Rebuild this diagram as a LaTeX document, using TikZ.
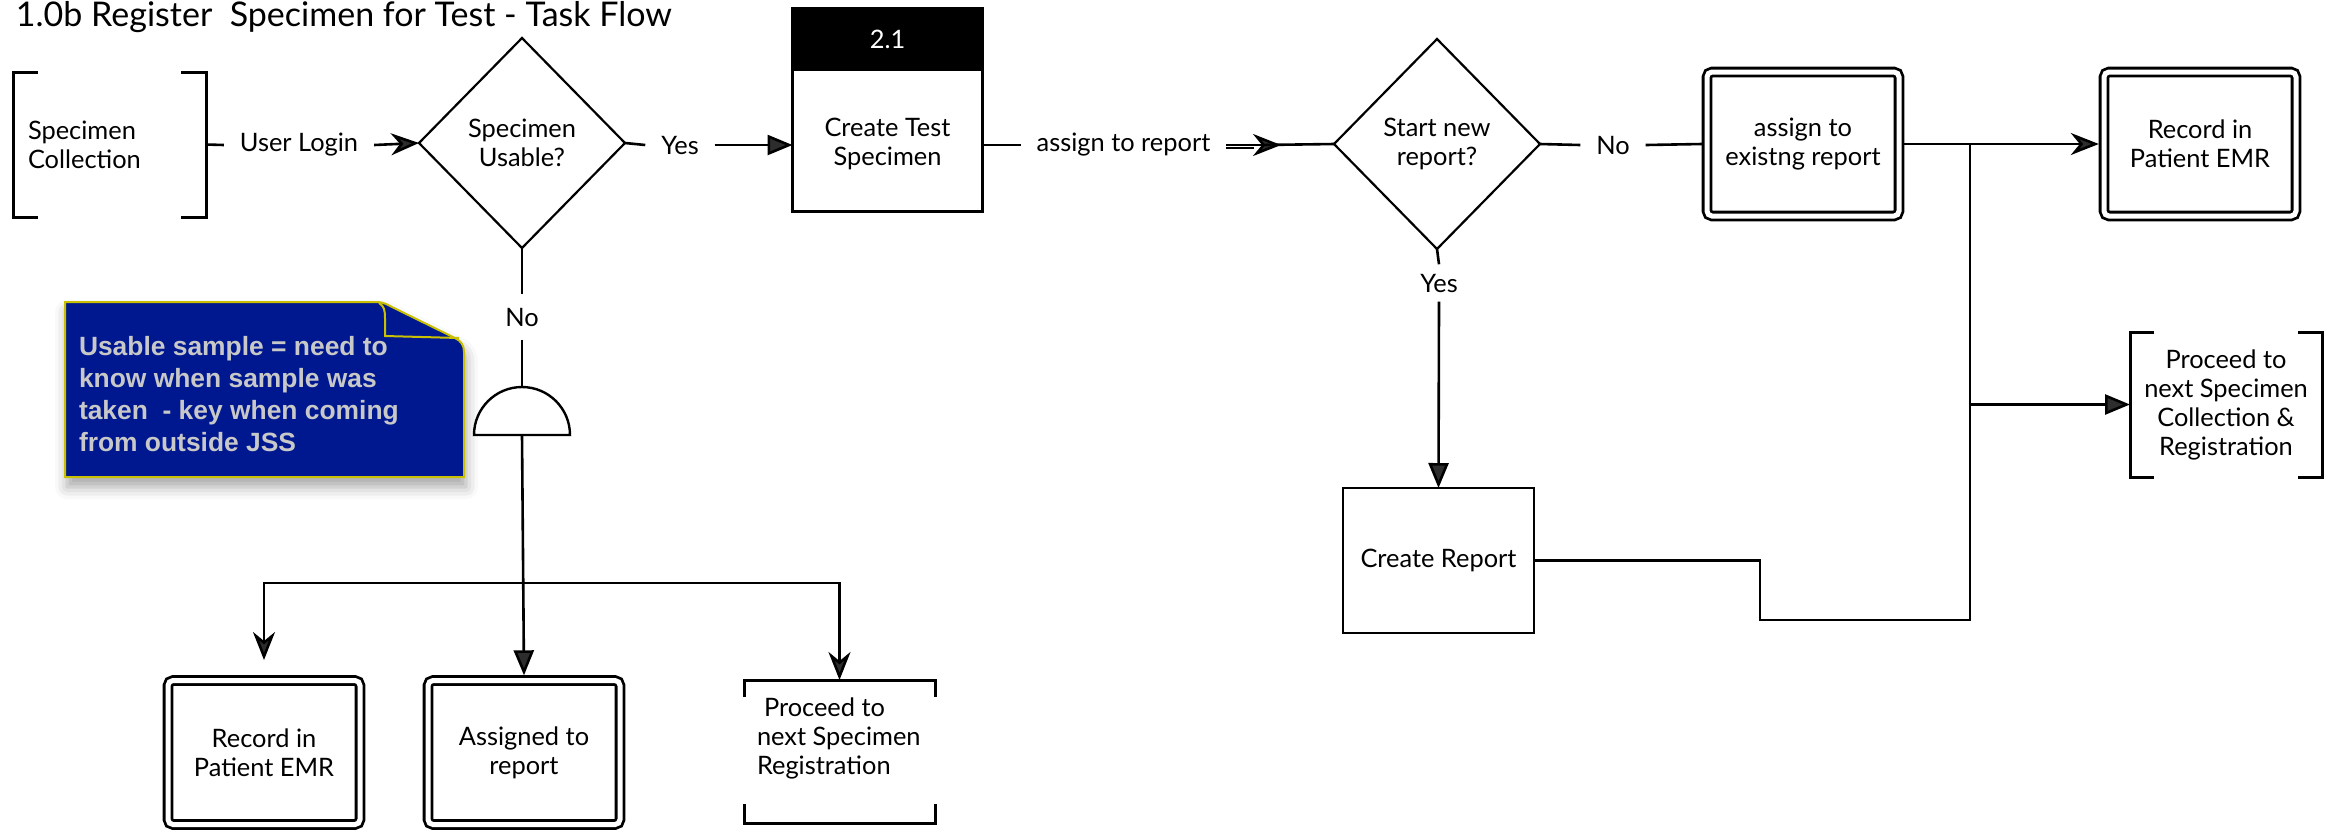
\documentclass[tikz,border=0pt]{standalone}
\usepackage{fontspec}
\setmainfont{Lato}
\newfontfamily\notefont{Liberation Sans}
\usetikzlibrary{shapes.geometric,arrows.meta,calc,shadows.blur}
\definecolor{noteblue}{RGB}{0,24,143}
\definecolor{noteedge}{RGB}{200,192,0}
\definecolor{notetext}{RGB}{200,200,200}
\tikzset{
 conn/.style={line width=1.3pt},
 boxl/.style={draw, line width=1.4pt, align=center},
 dbl/.style={draw, line width=1.4pt, double, double distance=2.5pt, rounded corners=2.5pt, outer sep=2.6pt, align=center},
 dec/.style={diamond, draw, line width=1.1pt, minimum width=103pt, minimum height=105pt, align=center},
 brk/.style={line width=1.5pt},
 lbl/.style={inner xsep=8pt},
 stl/.tip={Stealth[length=14pt,width=11pt,inset=4.5pt]},
 tri/.tip={Triangle[length=12.5pt,width=10pt]},
}
\begin{document}
\begin{tikzpicture}[x=0.5pt,y=-0.5pt,
  every node/.style={font=\fontsize{12.7}{14.5}\selectfont, inner sep=0pt, outer sep=0pt}]
\useasboundingbox (0,0) rectangle (2335,832);

% title
\node[anchor=base west, font=\fontsize{17}{20}\selectfont] (title) at (16,26) {1.0b Register\ \ Specimen for Test - Task Flow};

% note
\path[fill=noteblue, draw=noteedge, line width=1pt, blur shadow={shadow xshift=1pt, shadow yshift=-5pt, shadow blur radius=6pt, shadow opacity=35}]
  (65,302) -- (376,302) .. controls (384,302) and (388,305) .. (392,307) -- (455,338)
  .. controls (461,341) and (464,345) .. (464,352) -- (464,477) -- (65,477) -- cycle;
\draw[noteedge, line width=1pt] (379,303) .. controls (384,306) and (385,310) .. (385,318) -- (385,336) -- (459,338);
\node[anchor=west, align=left, text=notetext, font=\notefont\bfseries\fontsize{13.2}{16}\selectfont] (note) at (79,394.5)
  {Usable sample = need to\\know when sample was\\taken\ \ - key when coming\\from outside JSS};

% Specimen Collection
\node[minimum width=96.5pt, minimum height=72.5pt, text width=81.5pt, align=left, inner xsep=7.5pt] (sc) at (109.5,144.5) {Specimen\\Collection};
\draw[brk] ($(sc.north west)+(25,0)$) -- (sc.north west) -- (sc.south west) -- ($(sc.south west)+(25,0)$);
\draw[brk] ($(sc.north east)+(-25,0)$) -- (sc.north east) -- (sc.south east) -- ($(sc.south east)+(-25,0)$);

\node[lbl] (login) at (299,145) {User Login};
\node[dec] (d1) at (522,143) {Specimen\\Usable?};
\draw[conn] (sc.east) -- (login.west);
\draw[conn,-stl] (login.east) -- (d1.west);

\node[lbl] (yes1) at (680,145) {Yes};
% box 2.1
\node[boxl, minimum width=95pt, minimum height=101.5pt] (b21) at (887.5,110) {};
\node[fill=black, text=white, minimum width=95pt, minimum height=31.25pt, anchor=north] (h21) at (b21.north) {2.1};
\node[align=center] (b21t) at (887.5,144) {Create Test\\Specimen};
\draw[conn] (d1.east) -- (yes1.west);
\draw[conn,-tri] (yes1.east) -- (yes1.east -| b21.west);

\node[lbl] (asr) at (1123.5,145) {assign to report};
\node[dec] (d2) at (1437,144) {Start new\\report?};
\coordinate (asrtip) at (1281,145);
\coordinate (asrj) at (1262,145);
\draw[conn] (asr.west -| b21.east) -- (asr.west);
\draw[conn,-stl] (asr.east) -- (asrtip);
\draw[conn] ($(asr.east)+(0,3)$) -- ($(asrj)+(-8,3)$);
\draw[conn] (asrj) -- (d2.west);

\node[lbl] (no2) at (1613,145) {No};
\node[dbl, minimum width=96pt, minimum height=72pt] (ab) at (1803,144) {assign to\\existng report};
\node[dbl, minimum width=96pt, minimum height=72pt] (rec1) at (2200,144) {Record in\\Patient EMR};
\draw[conn] (d2.east) -- (no2.west);
\draw[conn] (no2.east) -- (ab.west);
\draw[conn,-stl] (ab.east) -- (rec1.west);

% Yes branch
\node[inner ysep=4.75pt] (yes2) at (1439,283) {Yes};
\node[boxl, minimum width=95.5pt, minimum height=72.5pt] (cr) at (1438.5,560.5) {Create Report};
\draw[conn] (d2.south) -- (yes2.north);
\draw[conn,-tri] (yes2.south) -- (cr.north);

\node[minimum width=96pt, minimum height=72.5pt, align=center] (pc2) at (2226,404.5) {Proceed to\\next Specimen\\Collection \&\\Registration};
\draw[brk] ($(pc2.north west)+(24,0)$) -- (pc2.north west) -- (pc2.south west) -- ($(pc2.south west)+(24,0)$);
\draw[brk] ($(pc2.north east)+(-24,0)$) -- (pc2.north east) -- (pc2.south east) -- ($(pc2.south east)+(-24,0)$);

\coordinate (j1) at (1970,145);
\coordinate (j3) at (1970,404.5);
\coordinate (k1) at (1760,560.5);
\coordinate (k2) at (1970,620);
\draw[conn] (cr.east) -- (k1) |- (k2) -- (j1);
\draw[conn,-tri] (j3) -- (pc2.west);

% No branch
\node[inner ysep=6.75pt] (no1) at (522,317) {No};
\coordinate (gtop) at (522,387);
\coordinate (gbase) at (522,435);
\draw[conn] (d1.south) -- (no1.north);
\draw[conn] (no1.south) -- (gtop);
\draw[line width=1.2pt, fill=white] (474,435) arc[start angle=180, end angle=360, radius=48] -- cycle;

\node[dbl, minimum width=96pt, minimum height=72pt] (rec2) at (264,752.5) {Record in\\Patient EMR};
\node[dbl, minimum width=96pt, minimum height=72pt] (asg) at (524,752.5) {Assigned to\\report};
\node[minimum width=95.5pt, minimum height=71.5pt] (pr3) at (839.5,751.5) {};
\draw[brk] ($(pr3.north west)+(0,17)$) -- (pr3.north west) -- (pr3.north east) -- ($(pr3.north east)+(0,17)$);
\draw[brk] ($(pr3.south west)+(0,-19)$) -- (pr3.south west) -- (pr3.south east) -- ($(pr3.south east)+(0,-19)$);
\node[align=left, anchor=west] (pr3t) at (757,738) {\hspace*{3.5pt}Proceed to\\next Specimen\\Registration};

\coordinate (br) at (522,583);
\coordinate (la) at (264,660);
\draw[conn,-tri] (gbase) -- (asg.north);
\draw[conn,-stl] (br) -| (la);
\draw[conn,-stl] (br) -| (pr3.north);
\end{tikzpicture}
\end{document}
